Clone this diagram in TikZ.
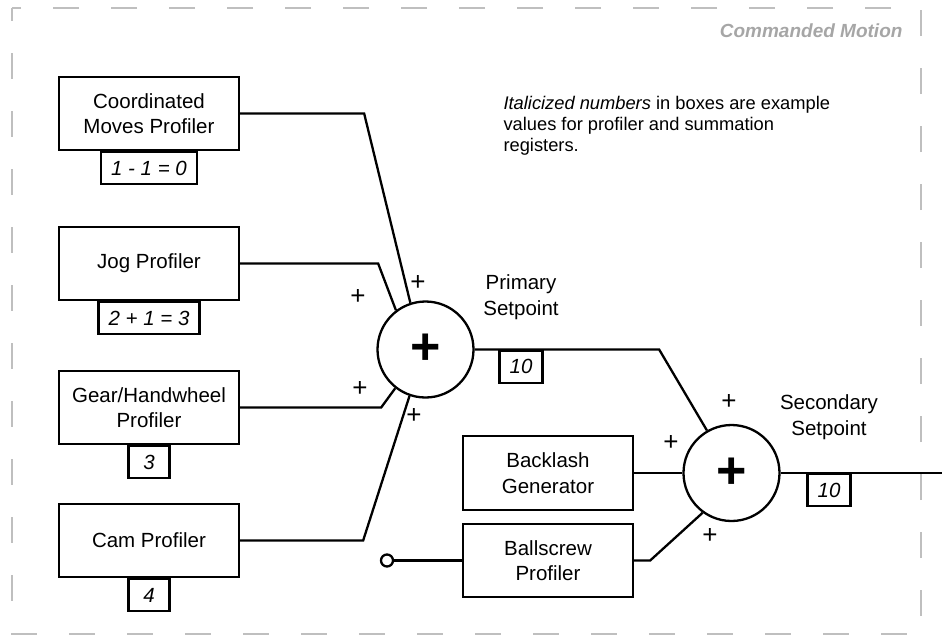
\documentclass[tikz,border=0pt]{standalone}
\usepackage{fontspec}
\setmainfont{Liberation Sans}
\usetikzlibrary{positioning}
\tikzset{
  profbox/.style={draw, line width=2.3pt, minimum width=180pt, minimum height=73pt,
    align=center, font=\fontsize{20.5}{25.6}\selectfont},
  valbox/.style={draw, line width=2.3pt, anchor=north, minimum width=41pt, minimum height=32pt,
    inner xsep=10pt, font=\fontsize{20.5}{24}\selectfont\itshape},
  sumnode/.style={draw, circle, line width=2.3pt, minimum size=96pt, inner sep=0pt,
    font=\fontsize{52}{52}\selectfont\bfseries},
  sgn/.style={inner sep=0pt, font=\fontsize{26}{26}\selectfont},
  setlbl/.style={align=center, font=\fontsize{20.5}{25.6}\selectfont},
  wire/.style={line width=2.3pt},
}
\begin{document}
\begin{tikzpicture}[x=1pt, y=-1pt]
        \useasboundingbox (0,0) rectangle (942,638);
        \draw[black!25, line width=2pt, dash pattern=on 26pt off 32pt, dash phase=13pt] (12,8) rectangle (921,634);
        \node[anchor=east, text=black!35, font=\fontsize{19}{19}\selectfont\bfseries\itshape]
            (title) at (906,31) {Commanded Motion};
        \node[anchor=west, align=left, font=\fontsize{18.3}{21}\selectfont]
            (note) at (500,126) {\textit{Italicized numbers} in boxes are example\\values for profiler and summation\\registers.};
        \node[profbox] (cmp) at (149,113.5) {Coordinated\\Moves Profiler};
        \node[profbox] (jog) at (149,263.5) {Jog Profiler};
        \node[profbox] (ghp) at (149,407.5) {Gear/Handwheel\\Profiler};
        \node[profbox] (cam) at (149,540.5) {Cam Profiler};
        \node[valbox] (cmv) at (cmp.south) {1 - 1 = 0};
        \node[valbox] (jogv) at (jog.south) {2 + 1 = 3};
        \node[valbox] (ghv) at (ghp.south) {3};
        \node[valbox] (camv) at (cam.south) {4};
        \node[sumnode] (sum1) at (425.5,349.5) {+};
        \node[sumnode] (sum2) at (731.5,473) {+};
        \node[profbox, minimum width=170pt, minimum height=74pt] (blg) at (548,473) {Backlash\\Generator};
        \node[profbox, minimum width=170pt] (bsp) at (548,560.5) {Ballscrew\\Profiler};
        \node[draw, circle, line width=2.3pt, minimum size=12pt, inner sep=0pt] (inp) at (387,560.5) {};
        \node[setlbl] (pslbl) at (521,297) {Primary\\Setpoint};
        \node[setlbl] (sslbl) at (829,417) {Secondary\\Setpoint};
        \node[valbox] (psv) at (pslbl |- sum1.east) {10};
        \node[valbox] (ssv) at (sslbl |- sum2.east) {10};
        \coordinate (out) at (942,473);
        \draw[wire] (cmp.east) -- ++(124,0) -- (sum1.108);
        \draw[wire] (jog.east) -- ++(138,0) -- (sum1.127);
        \draw[wire] (ghp.east) -- ++(141,0) -- (sum1.232);
        \draw[wire] (cam.east) -- ++(123,0) -- (sum1.251);
        \draw[wire] (sum1.east) -- ++(184.5,0) -- (sum2.120);
        \draw[wire] (blg.east) -- (sum2.west);
        \draw[wire] (bsp.east) -- ++(16,0) -- (sum2.234);
        \draw[wire] (inp) -- (bsp.west);
        \draw[wire] (sum2.east) -- (out);
        \node[sgn] (pc1) at (418,283) {+};
        \node[sgn] (pc2) at (358,297) {+};
        \node[sgn] (pc3) at (360,389) {+};
        \node[sgn] (pc4) at (414,416) {+};
        \node[sgn] (ps1) at (729,402) {+};
        \node[sgn] (ps2) at (671,443) {+};
        \node[sgn] (ps3) at (710,536) {+};
    \end{tikzpicture}
\end{document}
